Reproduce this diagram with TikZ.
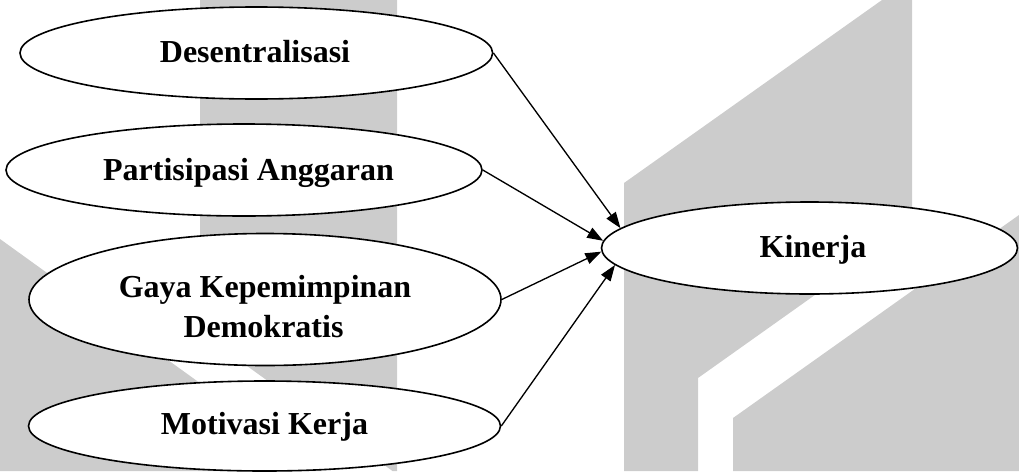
\documentclass[tikz,border=0pt]{standalone}
\usepackage{fontspec}
\setmainfont{Liberation Serif}
\usetikzlibrary{shapes.geometric,arrows.meta}
\definecolor{wm}{RGB}{204,204,204}
\tikzset{
  oval/.style={ellipse, draw=black, fill=white, line width=1.2pt, inner sep=0pt},
  lbl/.style={anchor=base, inner sep=0pt, font=\fontsize{24}{28}\selectfont\bfseries},
  arr/.style={line width=1pt, -{Triangle[length=12pt,width=8.5pt]}},
  wmfill/.style={fill=wm, draw=none}
}
\begin{document}
\begin{tikzpicture}[x=0.75pt,y=-0.75pt]
\useasboundingbox (0,0) rectangle (1019,471);
% watermark
\fill[wmfill] (200,0) -- (397,0) -- (397,471) -- (392.5,471) -- (200,332) -- cycle;
\fill[wmfill] (0,239) -- (322,471) -- (0,471) -- cycle;
\fill[wmfill] (624,183) -- (882,0) -- (912,0) -- (912,226) -- (698,378) -- (698,471) -- (624,471) -- cycle;
\fill[wmfill] (733,418) -- (1019,215) -- (1019,471) -- (733,471) -- cycle;
% ellipses
\node[oval, minimum width=354.5pt, minimum height=69pt] (des) at (256.3,53) {};
\node[oval, minimum width=357pt, minimum height=69pt] (par) at (244,170) {};
\node[oval, minimum width=354pt, minimum height=99pt] (gay) at (265,299.5) {};
\node[oval, minimum width=354pt, minimum height=67.5pt] (mot) at (264.5,426) {};
\node[oval, minimum width=312pt, minimum height=69pt] (kin) at (809.5,248) {};
% texts
\node[lbl] (tdes) at (255,62) {Desentralisasi};
\node[lbl] (tpar) at (248.5,180) {Partisipasi Anggaran};
\node[lbl] (tgay1) at (265,297) {Gaya Kepemimpinan};
\node[lbl] (tgay2) at (263.5,337) {Demokratis};
\node[lbl] (tmot) at (264.5,434) {Motivasi Kerja};
\node[lbl] (tkin) at (813,257) {Kinerja};
% connectors
\draw[arr] (des.-0.5) -- (kin.174.7);
\draw[arr] (par.-0.5) -- (kin.178.3);
\draw[arr] (gay.-0.7) -- (kin.181.4);
\draw[arr] (mot.-0.7) -- (kin.185.7);
\end{tikzpicture}
\end{document}
